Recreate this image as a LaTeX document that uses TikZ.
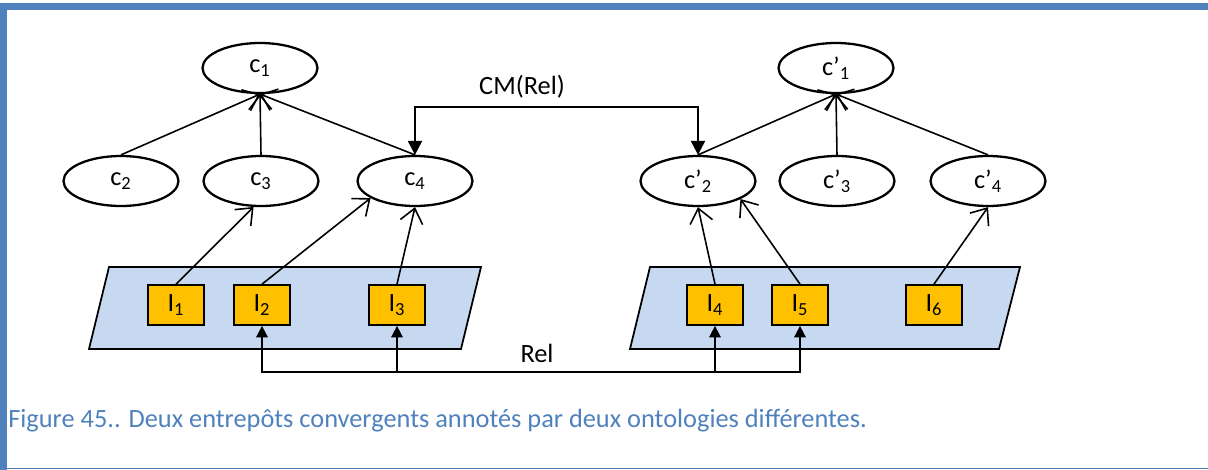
\documentclass[tikz,border=0pt]{standalone}
\usepackage{fontspec}
\setmainfont{Carlito}
\usetikzlibrary{shapes.geometric, arrows.meta, calc}

\definecolor{framebl}{HTML}{4F81BD}
\definecolor{layerbl}{HTML}{C6D9F1}
\definecolor{instor}{HTML}{FFC000}

\begin{document}
\begin{tikzpicture}[
    x=0.02cm,
    y=-0.02cm,
    font=\fontsize{15}{18}\selectfont,
    concept/.style={ellipse, draw, line width=1.3pt, minimum width=2.3cm, minimum height=1cm, inner sep=0pt},
    inst/.style={rectangle, draw, fill=instor, line width=1pt, minimum width=1.12cm, minimum height=0.8cm, inner sep=0pt},
    isa/.style={line width=0.9pt, -{Straight Barb[length=8pt,width=13pt]}},
    maparrow/.style={line width=1.2pt, {Triangle[length=8pt,width=8pt]}-{Triangle[length=8pt,width=8pt]}},
    relarrow/.style={line width=0.9pt, {Triangle[length=6.5pt,width=6.5pt]}-{Triangle[length=6.5pt,width=6.5pt]}}
]
\useasboundingbox (0,0) rectangle (1208,470);

% Frame
\fill[framebl] (0,3) rectangle (1208,10);
\fill[framebl] (0,3) rectangle (7,470);
\draw[framebl, line width=0.6pt] (0,468.5) -- (1208,468.5);

% Sources (layers)
\draw[fill=layerbl, line width=1pt] (109,267) -- (481,267) -- (461,349) -- (89,349) -- cycle;
\draw[fill=layerbl, line width=1pt] (650,267) -- (1020,267) -- (999,349) -- (630,349) -- cycle;

% First ontology
\node[concept] (c1) at (260,68) {c\textsubscript{1}};
\node[concept] (c2) at (121,181) {c\textsubscript{2}};
\node[concept] (c3) at (261,181) {c\textsubscript{3}};
\node[concept] (c4) at (415,181) {c\textsubscript{4}};

% Second ontology
\node[concept] (cp1) at (836,68) {c’\textsubscript{1}};
\node[concept] (cp2) at (698,181) {c’\textsubscript{2}};
\node[concept] (cp3) at (837,181) {c’\textsubscript{3}};
\node[concept] (cp4) at (988,181) {c’\textsubscript{4}};

% Instances
\node[inst] (I1) at (176,305) {I\textsubscript{1}};
\node[inst] (I2) at (262,305) {I\textsubscript{2}};
\node[inst] (I3) at (397,305) {I\textsubscript{3}};
\node[inst] (I4) at (715,305) {I\textsubscript{4}};
\node[inst] (I5) at (800,305) {I\textsubscript{5}};
\node[inst] (I6) at (934,305) {I\textsubscript{6}};

% Subsumption
\foreach \sub in {c2, c3, c4}
    \draw[isa] (\sub.north) -- (c1.south);
\foreach \sub in {cp2, cp3, cp4}
    \draw[isa] (\sub.north) -- (cp1.south);

% Annotations
\draw[isa] (I1.north) -- (c3.254);
\draw[isa] (I2.north) -- (c4.201);
\draw[isa] (I3.north) -- (c4.south);
\draw[isa] (I4.north) -- (cp2.south);
\draw[isa] (I5.north) -- (cp2.337);
\draw[isa] (I6.north) -- (cp4.south);

% Mapping
\coordinate (cmrow) at (0,107);
\draw[maparrow] (c4.north) -- (c4.north |- cmrow) -- (cp2.north |- cmrow) -- (cp2.north);
\node (cmlabel) at (522,87) {CM(Rel)};

% Relation between sources
\coordinate (relrow) at (0,372);
\draw[relarrow] (I2.south) -- (I2.south |- relrow) -- (I5.south |- relrow) -- (I5.south);
\draw[relarrow] (I3.south) -- (I3.south |- relrow) -- (I4.south |- relrow) -- (I4.south);
\node (rellabel) at (537,353) {Rel};

% Caption
\node[anchor=west, inner sep=0pt, text=framebl] (caption) at (8,421)
    {Figure 45.. Deux entrepôts convergents annotés par deux ontologies différentes.};
\end{tikzpicture}
\end{document}
